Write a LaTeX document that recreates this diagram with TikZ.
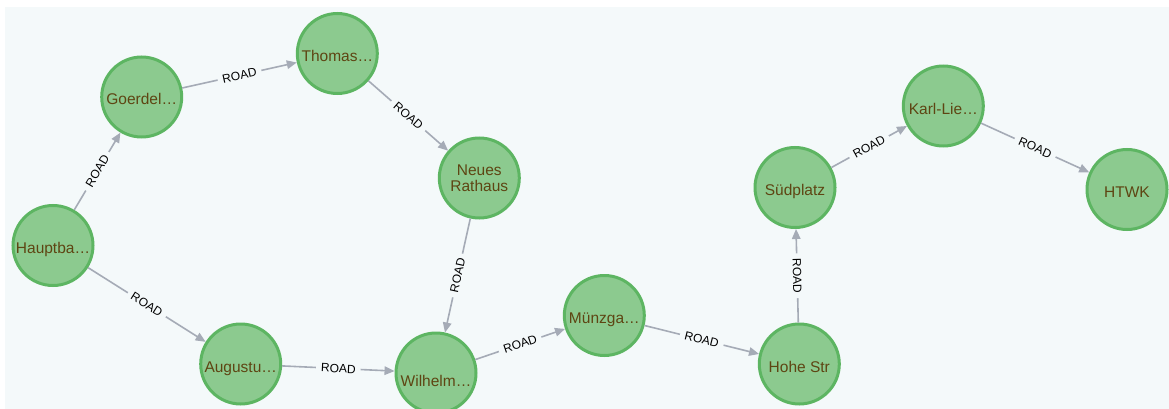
\documentclass[tikz,border=0pt]{standalone}
\usepackage{fontspec}
\setmainfont{Liberation Sans}
\usetikzlibrary{arrows.meta}
\definecolor{bgc}{HTML}{F4F9FA}
\definecolor{nfill}{HTML}{8CCA8F}
\definecolor{nline}{HTML}{5DB562}
\definecolor{ntext}{HTML}{5E4513}
\definecolor{egc}{HTML}{A5ABB6}
\tikzset{
  place/.style={circle, draw=nline, fill=nfill, line width=3pt, minimum size=80pt, inner sep=0pt,
    text=ntext, font=\fontsize{15.5}{16}\selectfont, align=center},
  one/.style={text height=16pt, text depth=0pt},
  road/.style={draw=egc, line width=1.6pt, -{Triangle[length=10pt,width=8.5pt]}},
  rlabel/.style={midway, sloped, fill=bgc, text=black, inner xsep=5pt, inner ysep=1pt,
    font=\fontsize{12}{12}\selectfont}
}
\begin{document}
\begin{tikzpicture}[x=1pt,y=-1pt]
\useasboundingbox (0,0) rectangle (1169,409);
\fill[white] (0,0) rectangle (1169,409);
\fill[bgc] (5,7) rectangle (1169,409);
\node[place,one] (hbf) at (53,245.5) {Hauptba…};
\node[place,one] (goe) at (141.7,97) {Goerdel…};
\node[place,one] (tho) at (337.3,53.5) {Thomas…};
\node[place] (nrh) at (479.3,178) {Neues\\Rathaus};
\node[place,one] (aug) at (240.7,364) {Augustu…};
\node[place,text height=27pt,text depth=0pt] (wil) at (436,373) {Wilhelm…};
\node[place,one] (mue) at (604.3,315.5) {Münzga…};
\node[place,one] (hoh) at (799.3,364) {Hohe Str};
\node[place,one] (sue) at (795,187.5) {Südplatz};
\node[place,one] (kar) at (943.3,106) {Karl-Lie…};
\node[place,one] (htw) at (1127,189.5) {HTWK};
\draw[road] (hbf) -- node[rlabel] (l1) {ROAD} (goe);
\draw[road] (goe) -- node[rlabel] (l2) {ROAD} (tho);
\draw[road] (tho) -- node[rlabel] (l3) {ROAD} (nrh);
\draw[road] (nrh) -- node[rlabel] (l4) {ROAD} (wil);
\draw[road] (hbf) -- node[rlabel] (l5) {ROAD} (aug);
\draw[road] (aug) -- node[rlabel] (l6) {ROAD} (wil);
\draw[road] (wil) -- node[rlabel] (l7) {ROAD} (mue);
\draw[road] (mue) -- node[rlabel] (l8) {ROAD} (hoh);
\draw[road] (hoh) -- node[rlabel] (l9) {ROAD} (sue);
\draw[road] (sue) -- node[rlabel] (l10) {ROAD} (kar);
\draw[road] (kar) -- node[rlabel] (l11) {ROAD} (htw);
\end{tikzpicture}
\end{document}
